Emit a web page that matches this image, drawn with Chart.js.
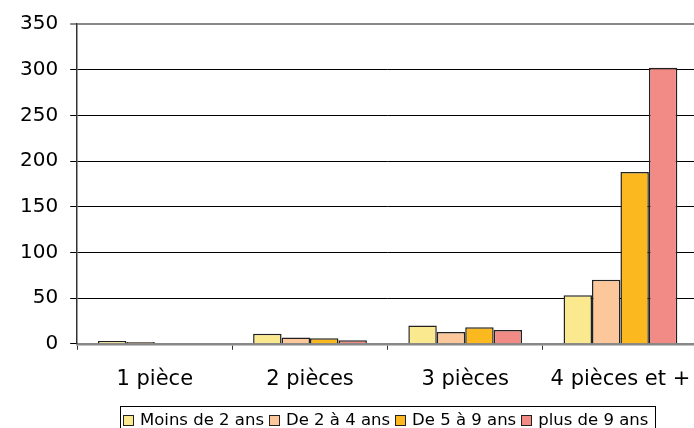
<!DOCTYPE html>
<html><head><meta charset="utf-8">
<script src="https://cdn.jsdelivr.net/npm/chart.js@4/dist/chart.umd.min.js"></script>
<style>
html,body{margin:0;padding:0;overflow:hidden;background:#fff;width:694px;height:428px}
#wrap{position:absolute;left:0;top:0;width:708px;height:417px}
#legend{position:absolute;left:120px;top:406px;height:40px;border:1px solid #000;box-sizing:border-box;
  font-family:'DejaVu Sans',Verdana,sans-serif;font-size:16.5px;color:#000;display:flex;align-items:flex-start;
  padding:3px 7px 0 2px;white-space:nowrap}
#legend .it{display:flex;align-items:center;margin-right:5px}
#legend .it:last-child{margin-right:0}
#legend .bx{width:9px;height:9px;border:1px solid #222;margin-right:6px;margin-top:2px}
</style>
</head><body><div id="wrap"><canvas id="c" width="708" height="417"></canvas></div>
<div id="legend"></div>
<script>
const categories = ["1 pièce", "2 pièces", "3 pièces", "4 pièces et +"];
const seriesNames = ["Moins de 2 ans", "De 2 à 4 ans", "De 5 à 9 ans", "plus de 9 ans"];
const moinsDe2 = [3, 11, 20, 53];
const de2a4 = [2, 7, 13, 70];
const de5a9 = [0, 6, 18, 188];
const plusDe9 = [0, 4, 15, 302];
const yTicks = [0, 50, 100, 150, 200, 250, 300, 350];
const colors = ["#FBE98F", "#FCC79A", "#FBB81F", "#F28A85"];

const values = [moinsDe2, de2a4, de5a9, plusDe9];
const FONT = "'DejaVu Sans', Verdana, sans-serif";

const lg = document.getElementById('legend');
seriesNames.forEach((n, i) => {
  const it = document.createElement('div'); it.className = 'it';
  const bx = document.createElement('div'); bx.className = 'bx'; bx.style.background = colors[i];
  const tx = document.createElement('span'); tx.textContent = n;
  it.appendChild(bx); it.appendChild(tx); lg.appendChild(it);
});

new Chart(document.getElementById('c'), {
  type: 'bar',
  data: {
    labels: categories,
    datasets: seriesNames.map((n, i) => ({
      label: n,
      data: values[i],
      backgroundColor: colors[i],
      borderColor: '#222',
      borderWidth: 1.5,
      categoryPercentage: 0.733,
      barPercentage: 1.0
    }))
  },
  options: {
    responsive: false,
    animation: false,
    devicePixelRatio: 1,
    layout: { padding: { top: 22, left: 8, right: 6, bottom: 8 } },
    plugins: {
      legend: { display: false },
      tooltip: { enabled: false }
    },
    scales: {
      x: {
        offset: true,
        grid: { offset: true, drawOnChartArea: false, drawTicks: true, tickLength: 6, color: '#333' },
        border: { color: '#888', width: 2.5 },
        ticks: { font: { family: FONT, size: 21 }, color: '#000', padding: 17, maxRotation: 0 }
      },
      y: {
        min: 0, max: 350,
        afterBuildTicks(axis) { axis.ticks = yTicks.map(v => ({ value: v })); },
        grid: {
          color: ctx => (ctx.tick && ctx.tick.value === 350) ? '#888' : '#000',
          lineWidth: ctx => (ctx.tick && ctx.tick.value === 350) ? 2 : 1,
          tickLength: 7
        },
        border: { color: '#333', width: 1.5 },
        ticks: { font: { family: FONT, size: 20 }, color: '#000', padding: 12 }
      }
    }
  }
});
</script></body></html>
